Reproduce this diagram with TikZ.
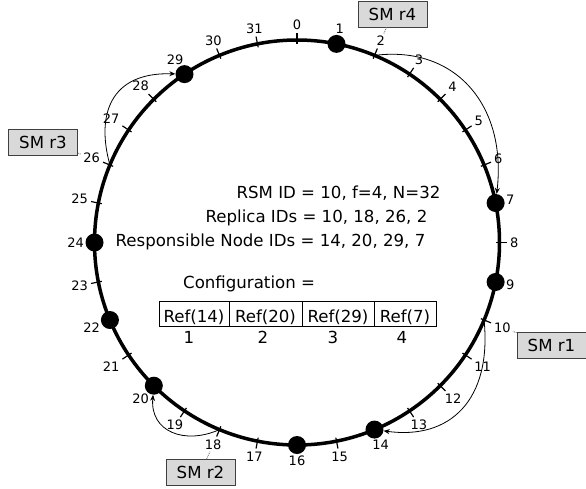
\documentclass[tikz,border=0pt]{standalone}
\usepackage{fontspec}
\setmainfont{DejaVu Sans}
\usetikzlibrary{calc,arrows.meta}
\begin{document}
\begin{tikzpicture}[x=1pt,y=-1pt,
  ring/.style={line width=3.5pt},
  tickmark/.style={line width=1.2pt},
  dot/.style={circle,fill=black,inner sep=0pt,minimum size=18pt},
  numlabel/.style={font=\fontsize{13}{15}\selectfont,inner sep=2pt},
  maintext/.style={font=\fontsize{16.6}{20}\selectfont,inner sep=0pt},
  cell/.style={draw,line width=1pt,minimum height=25pt,inner sep=4pt,
    text height=17pt,text depth=0pt,font=\fontsize{16.6}{20}\selectfont},
  smbox/.style={draw=black!75,fill=black!15,line width=0.8pt,
    minimum width=69pt,minimum height=26pt,inner sep=0pt,
    font=\fontsize{16.6}{20}\selectfont},
  link/.style={densely dotted,black!55,line width=0.9pt},
  hop/.style={line width=0.8pt,-{Stealth[length=6pt,width=5pt]}}
]
\useasboundingbox (0,0) rectangle (586,488);
\fill[white] (0,0) rectangle (586,488);

% ring of 32 identifiers
\coordinate (c) at (297,242.5);
\draw[ring] (c) circle[radius=202.5];
\foreach \k in {0,...,31}{
  \coordinate (p\k) at ($(c)+({11.25*\k-90}:202.5)$);
  \draw[tickmark] ($(c)+({11.25*\k-90}:199)$) -- ($(c)+({11.25*\k-90}:210)$);
}
% occupied positions
\foreach \k in {1,7,9,14,16,20,22,24,29}{
  \node[dot] (d\k) at (p\k) {};
}
% position numbers
\foreach \k in {0,...,31}{
  \pgfmathsetmacro\anc{mod(630-11.25*\k,360)}
  \node[numlabel,anchor=\anc] (l\k) at ($(c)+({11.25*\k-90}:211)$) {\k};
}

% replica hops to responsible nodes
\draw[hop] (p2) .. controls (455,45) and (507,105) .. (d7);
\draw[hop] (p10) .. controls (492,400) and (450,440) .. (d14);
\draw[hop] (p18) .. controls (185,445) and (150,432) .. (d20);
\draw[hop] (p26) .. controls (96,115) and (110,72) .. (d29);

% state machine replicas
\node[smbox] (smr4) at (392.5,14) {SM r4};
\node[smbox] (smr3) at (43,142.5) {SM r3};
\node[smbox] (smr1) at (551.5,345) {SM r1};
\node[smbox] (smr2) at (200.5,472.5) {SM r2};
\draw[link] (smr4) -- (l2);
\draw[link] (smr3) -- (l26);
\draw[link] (smr1) -- (l10);
\draw[link] (smr2) -- (l18);

% description
\node[maintext,anchor=base west] (t1) at (236.4,198) {RSM ID = 10, f=4, N=32};
\node[maintext,anchor=base west] (t2) at (205.4,222) {Replica IDs = 10, 18, 26, 2};
\node[maintext,anchor=base west] (t3) at (115.4,246.5) {Responsible Node IDs = 14, 20, 29, 7};
\node[maintext,anchor=base west] (t4) at (183,288) {Configuration =};

% configuration table
\node[cell,minimum width=70pt] (c1) at (194,313.5) {Ref(14)};
\node[cell,minimum width=73pt] (c2) at (265.5,313.5) {Ref(20)};
\node[cell,minimum width=72pt] (c3) at (338,313.5) {Ref(29)};
\node[cell,minimum width=62pt] (c4) at (405,313.5) {Ref(7)};
\node[maintext,anchor=base] (n1) at (189,343) {1};
\node[maintext,anchor=base] (n2) at (263,343) {2};
\node[maintext,anchor=base] (n3) at (333,343) {3};
\node[maintext,anchor=base] (n4) at (402,343) {4};
\end{tikzpicture}
\end{document}
